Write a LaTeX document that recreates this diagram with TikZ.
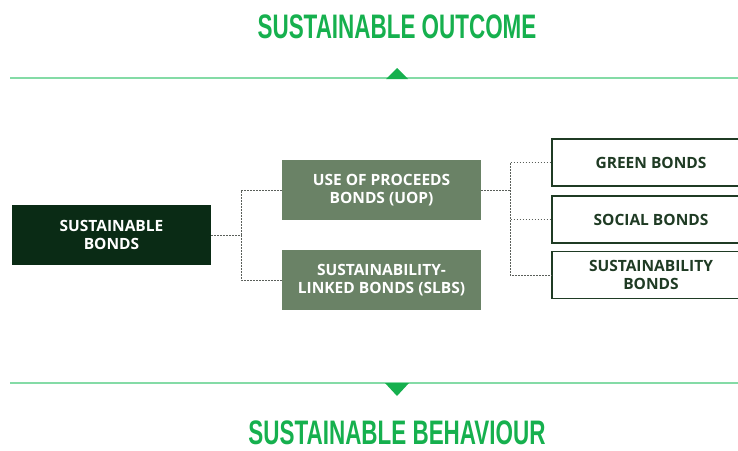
\documentclass[tikz,border=0pt]{standalone}
\usepackage{fontspec}
\setsansfont{Open Sans}
\newfontfamily\headfont[FakeStretch=0.66]{Liberation Sans}
\usetikzlibrary{positioning}
\definecolor{leaf}{HTML}{16B04E}
\definecolor{rule}{HTML}{84DBA6}
\definecolor{forest}{HTML}{0A2B15}
\definecolor{sage}{HTML}{6A8266}
\definecolor{pine}{HTML}{1F3B24}
\definecolor{link}{HTML}{5A5F5A}

\begin{document}
\begin{tikzpicture}[x=1pt,y=-1pt,
    head/.style={text=leaf, font=\headfont\bfseries\fontsize{34}{34}\selectfont, anchor=base, inner sep=0pt},
    root/.style={fill=forest, text=white, minimum width=199pt, minimum height=60pt, inner sep=0pt, align=center, font=\sffamily\bfseries\fontsize{15.5}{17.5}\selectfont}]
    \tikzset{kind/.style={fill=sage, text=white, minimum width=199pt, minimum height=60pt, inner sep=0pt, align=center, font=\sffamily\bfseries\fontsize{15.5}{17.5}\selectfont}}
    \tikzset{leafbox/.style={draw=pine, line width=1.4pt, fill=white, text=pine, minimum width=198pt, minimum height=47pt, inner sep=0pt, align=center, font=\sffamily\bfseries\fontsize{15.5}{17.5}\selectfont},
    wire/.style={draw=link, line width=0.9pt, dash pattern=on 1.6pt off 1.4pt}}
    \useasboundingbox (0,0) rectangle (738,450);
    \clip (0,0) rectangle (738,450);

    % outcome / behaviour band
    \node[head] (outcome) at (397,38) {SUSTAINABLE OUTCOME};
    \draw[rule, line width=1.5pt] (10,78) -- (745,78);
    \fill[leaf] (386,79) -- (397,68) -- (408,79) -- cycle;

    \draw[rule, line width=1.5pt] (10,383) -- (745,383);
    \fill[leaf] (385,383) -- (397,396) -- (409,383) -- cycle;
    \node[head] (behaviour) at (397,444) {SUSTAINABLE BEHAVIOUR};

    % bonds tree
    \node[root] (sb) at (111.5,235) {SUSTAINABLE\\BONDS};
    \node[kind] (uop) at (381.5,190) {USE OF PROCEEDS\\BONDS (UOP)};
    \node[kind] (slb) at (381.5,280) {SUSTAINABILITY-\\LINKED BONDS (SLBS)};
    \node[leafbox] (green) at (651,162.5) {GREEN BONDS};
    \node[leafbox] (social) at (651,219.5) {SOCIAL BONDS};
    \node[leafbox] (sust) at (651,275) {SUSTAINABILITY\\BONDS};

    \coordinate (j1) at (241,235);
    \coordinate (j2) at (510,190);
    \draw[wire] (sb.east) -- (j1) |- (uop.west);
    \draw[wire] (j1) |- (slb.west);
    \draw[wire] (uop.east) -- (j2) |- (green.west);
    \draw[wire] (j2) |- (social.west);
    \draw[wire] (j2) |- (sust.west);
\end{tikzpicture}
\end{document}
